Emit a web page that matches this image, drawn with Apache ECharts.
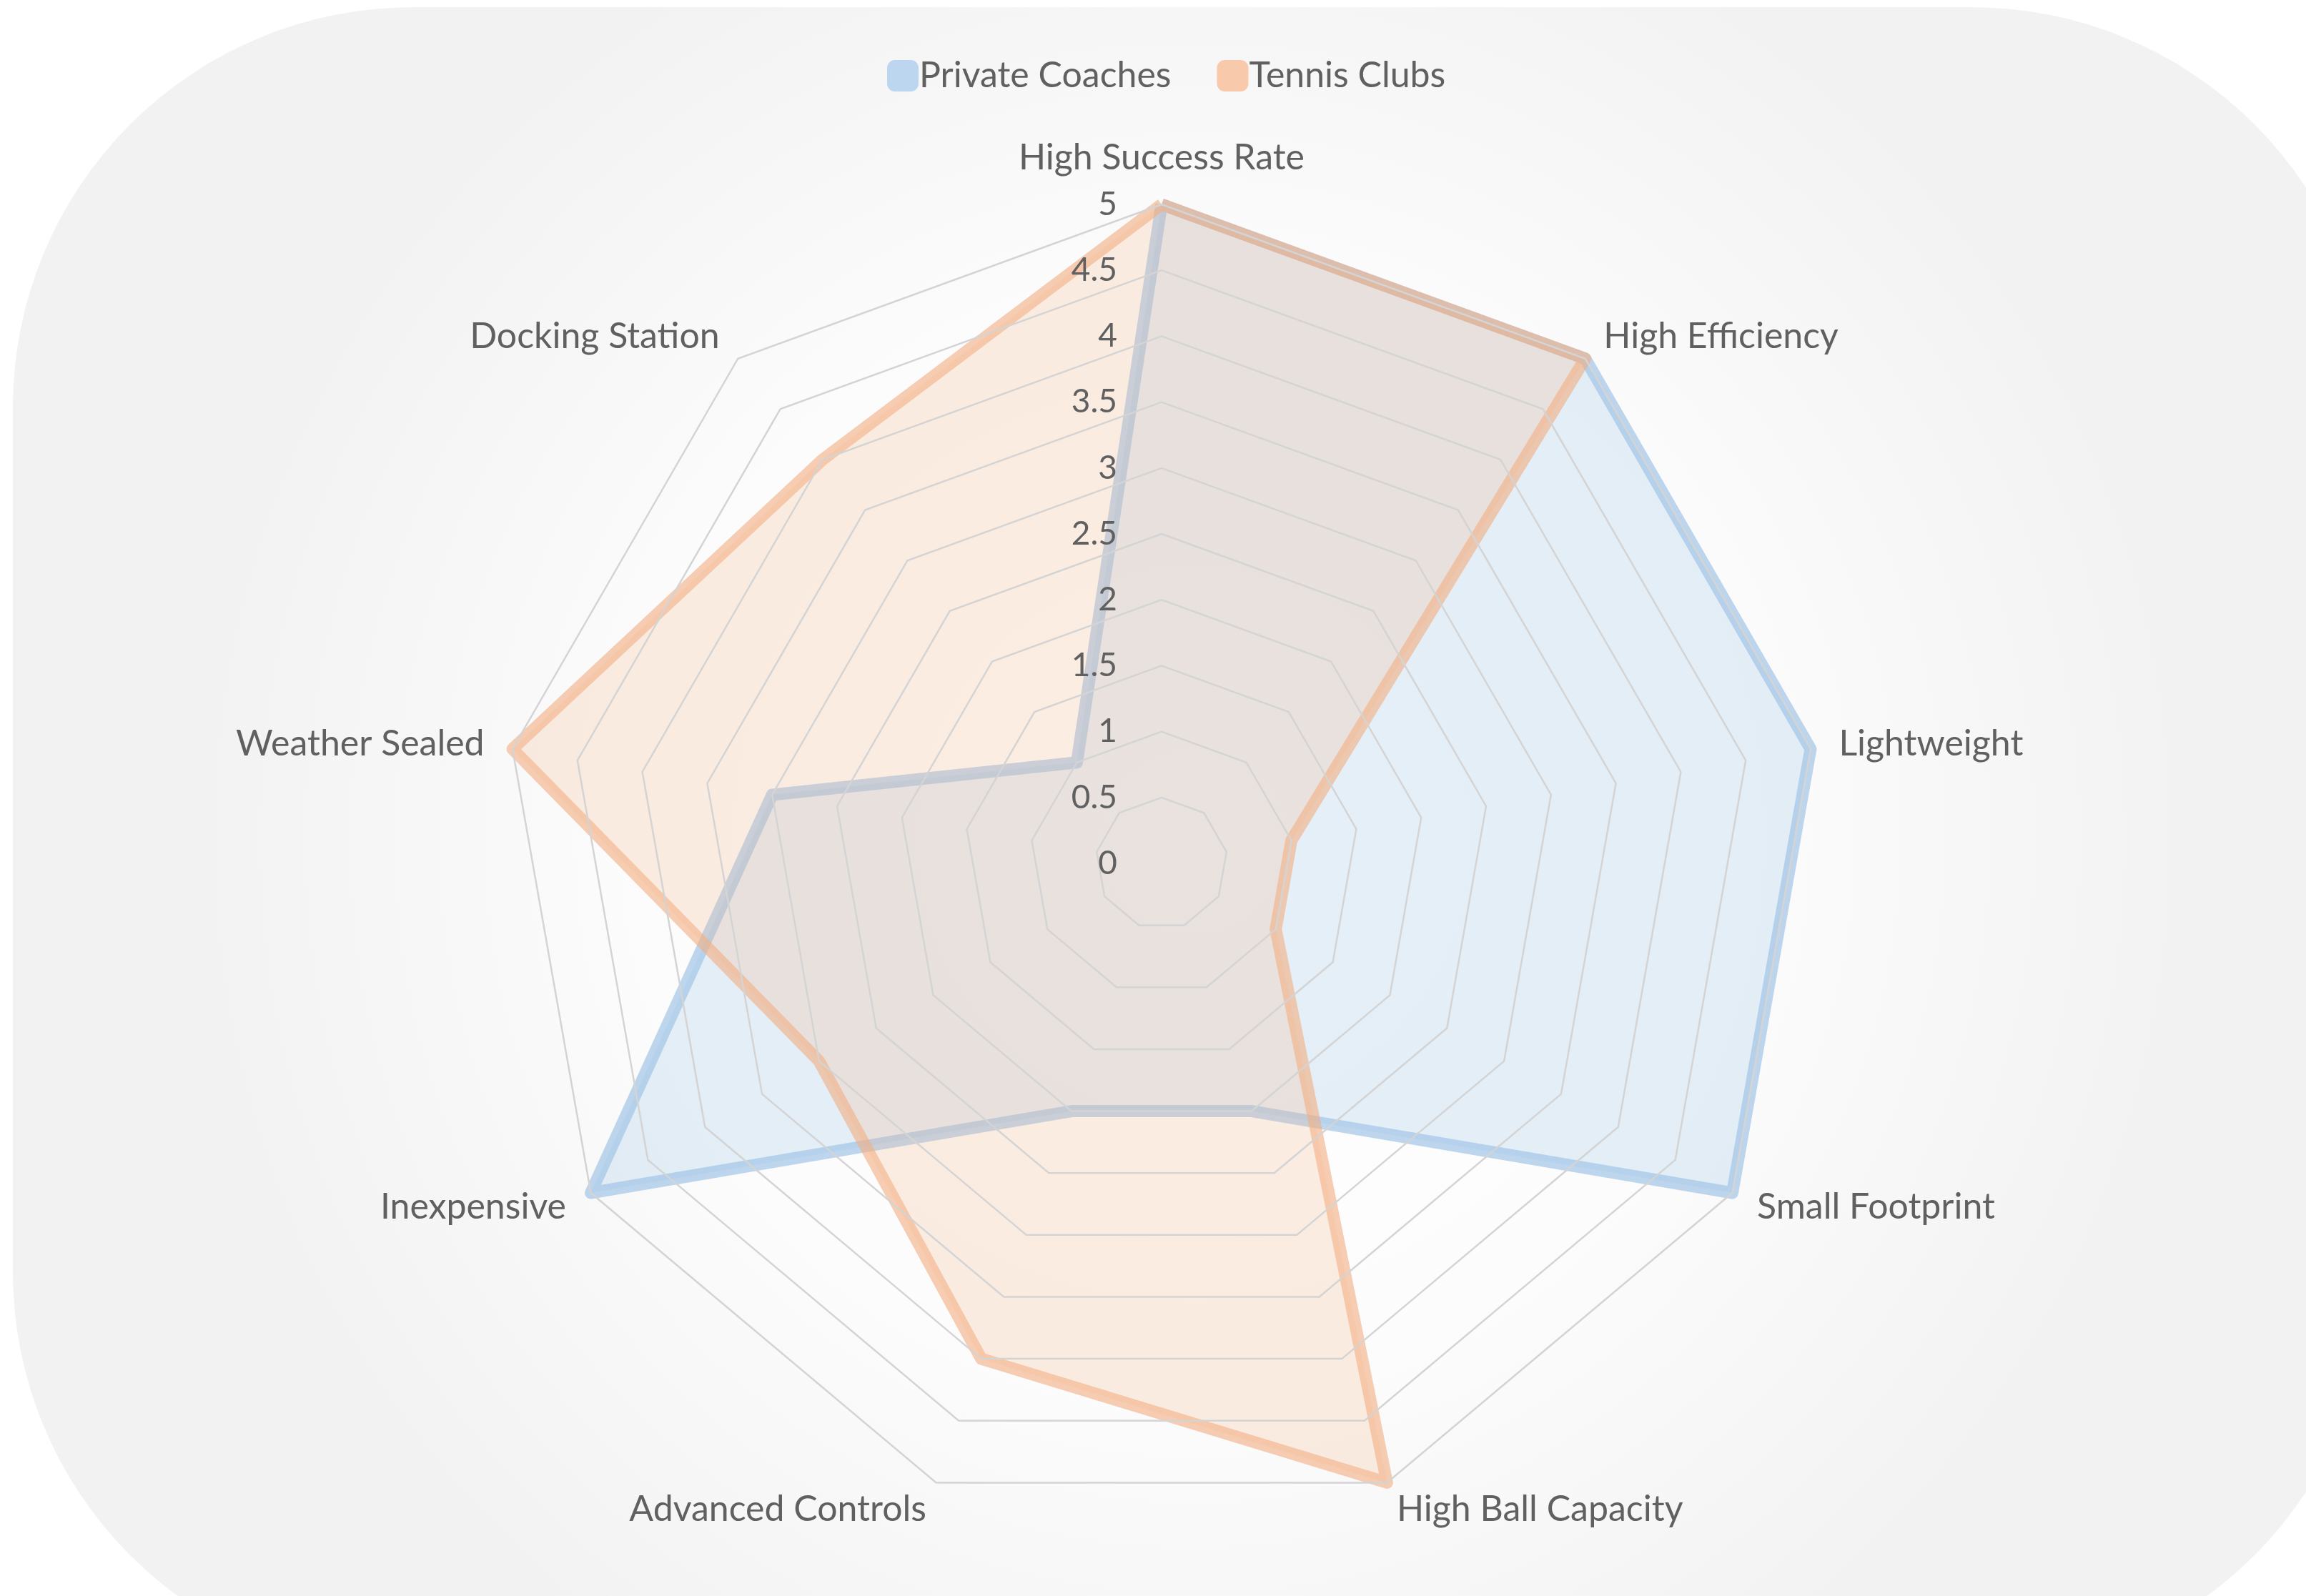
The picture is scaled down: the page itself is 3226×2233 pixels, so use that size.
<!DOCTYPE html>
<html>
<head>
<meta charset="utf-8">
<style>
    html, body { margin: 0; padding: 0; background: #ffffff; }
    #radar_chart { width: 3226px; height: 2233px; }
</style>
</head>
<body>
<div id="radar_chart"></div>

<script src="https://cdn.jsdelivr.net/npm/echarts@6/dist/echarts.min.js"></script>
<script type="text/javascript">

    // indicators, listed counter-clockwise from the top (echarts radar order)
    var indicatorNames = ['High Success Rate', 'Docking Station', 'Weather Sealed', 'Inexpensive',
        'Advanced Controls', 'High Ball Capacity', 'Small Footprint', 'Lightweight', 'High Efficiency'];
    var privateCoaches = [5, 1, 3, 5, 2, 2, 5, 5, 5];
    var tennisClubs = [5, 4, 5, 3, 4, 5, 1, 1, 5];
    var seriesNames = ['Private Coaches', 'Tennis Clubs'];
    var axisMax = 5;

    var font = 'Lato, "Open Sans", sans-serif';

    function creatRadar() {
        var chart = echarts.init(document.getElementById('radar_chart'));

        var indicators = indicatorNames.map(function (name, i) {
            var ind = { name: name, min: 0, max: axisMax };
            if (i === 0) {
                // tick labels only on the top axis
                ind.axisLabel = { show: true };
            }
            return ind;
        });

        chart.setOption({
            backgroundColor: '#ffffff',
            graphic: [{
                type: 'rect',
                z: -10,
                silent: true,
                shape: { x: 18, y: 10, width: 3300, height: 2330, r: 560 },
                style: {
                    fill: {
                        type: 'radial', x: 0.5, y: 0.5, r: 0.6,
                        colorStops: [
                            { offset: 0, color: '#ffffff' },
                            { offset: 0.55, color: '#fcfcfc' },
                            { offset: 1, color: '#f2f2f2' }
                        ]
                    }
                }
            }],
            legend: {
                top: 76,
                left: 1236,
                icon: 'roundRect',
                itemWidth: 44,
                itemHeight: 44,
                itemGap: 64,
                textStyle: { color: '#606060', fontSize: 50, fontFamily: font, padding: [0, 0, 0, -4] },
                data: seriesNames
            },
            radar: {
                z: 3,
                center: [1625, 1208],
                radius: 922,
                startAngle: 90,
                shape: 'polygon',
                splitNumber: 10,
                indicator: indicators,
                axisName: { color: '#606060', fontSize: 50, fontFamily: font },
                nameGap: 40,
                axisLine: { show: false },
                axisTick: { show: false },
                axisLabel: {
                    show: false,
                    color: '#606060',
                    fontSize: 46,
                    fontFamily: font,
                    margin: 62,
                    showMinLabel: true,
                    showMaxLabel: true
                },
                splitLine: { lineStyle: { color: '#d4d4d4', width: 2.5 } },
                splitArea: { show: false }
            },
            series: [{
                type: 'radar',
                symbol: 'none',
                data: [{
                    name: seriesNames[0],
                    value: privateCoaches,
                    itemStyle: { color: '#bcd6ef' },
                    lineStyle: { color: '#94bce3', width: 17, opacity: 0.6, join: 'round' },
                    areaStyle: { color: '#9dc3e6', opacity: 0.25 }
                }, {
                    name: seriesNames[1],
                    value: tennisClubs,
                    itemStyle: { color: '#f8c9ab' },
                    lineStyle: { color: '#f2ad80', width: 17, opacity: 0.6, join: 'round' },
                    areaStyle: { color: '#f4b183', opacity: 0.22 }
                }]
            }]
        });
    }

    creatRadar();

</script>
</body>
</html>
